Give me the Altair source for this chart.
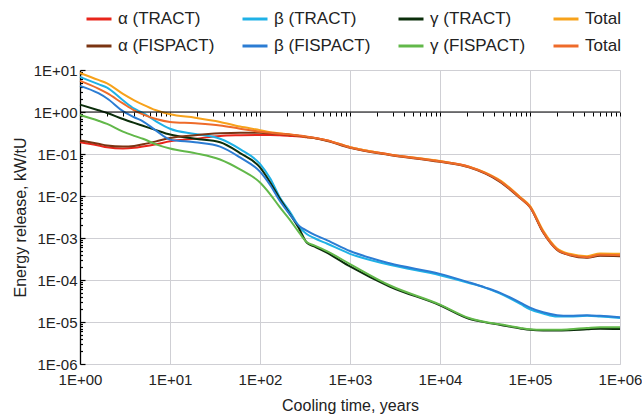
import altair as alt
import pandas as pd

# Cooling time, years
years = [1, 1.6, 2, 3, 4, 5, 7, 10, 19, 36, 60, 100, 130, 165, 215, 275, 330, 400,
         560, 1000, 2750, 1e4, 2.1e4, 3.2e4, 4.6e4, 7.8e4, 1e5, 1.4e5, 2e5, 2.75e5,
         4.3e5, 6e5, 1e6]

# Energy release, kW/tU
alpha_tract = [0.19, 0.16, 0.145, 0.135, 0.14, 0.15, 0.17, 0.2, 0.23, 0.27, 0.28, 0.285,
               0.285, 0.28, 0.27, 0.26, 0.25, 0.24, 0.21, 0.145, 0.098, 0.067, 0.05,
               0.035, 0.023, 0.0092, 0.0056, 0.0014, 5.4e-4, 4.0e-4, 3.5e-4, 3.9e-4, 3.8e-4]
beta_tract = [6.8, 4.6, 3.8, 1.9, 1.2, 0.95, 0.6, 0.4, 0.3, 0.23, 0.13, 0.058, 0.026,
              0.0095, 0.0042, 0.0018, 1.25e-3, 1.0e-3, 7.3e-4, 4.2e-4, 2.3e-4, 1.3e-4,
              8.5e-5, 6.5e-5, 4.8e-5, 2.7e-5, 2.0e-5, 1.6e-5, 1.35e-5, 1.35e-5, 1.4e-5,
              1.35e-5, 1.25e-5]
gamma_tract = [1.5, 1.1, 0.95, 0.68, 0.55, 0.47, 0.37, 0.29, 0.23, 0.19, 0.105, 0.048,
               0.021, 0.0088, 0.0037, 0.0016, 7.8e-4, 6.3e-4, 4.4e-4, 2.1e-4, 7.0e-5,
               2.5e-5, 1.2e-5, 9.8e-6, 8.6e-6, 7.0e-6, 6.5e-6, 6.3e-6, 6.3e-6, 6.4e-6,
               6.7e-6, 6.9e-6, 6.8e-6]
total_tract = [8.5, 5.8, 4.8, 2.7, 1.9, 1.5, 1.1, 0.88, 0.73, 0.58, 0.45, 0.37, 0.33,
               0.31, 0.29, 0.27, 0.255, 0.24, 0.21, 0.145, 0.098, 0.068, 0.05, 0.036,
               0.024, 0.0094, 0.0058, 0.0015, 5.6e-4, 4.2e-4, 3.7e-4, 4.3e-4, 4.2e-4]
alpha_fispact = [0.21, 0.175, 0.16, 0.15, 0.155, 0.17, 0.2, 0.24, 0.28, 0.31, 0.32, 0.32,
                 0.31, 0.3, 0.285, 0.27, 0.255, 0.24, 0.205, 0.14, 0.095, 0.065, 0.048,
                 0.034, 0.022, 0.0088, 0.0054, 0.00135, 5.2e-4, 3.9e-4, 3.4e-4, 3.8e-4,
                 3.7e-4]
beta_fispact = [4.2, 2.8, 2.1, 1.05, 0.75, 0.6, 0.36, 0.22, 0.19, 0.15, 0.083, 0.038,
                0.018, 0.0078, 0.0036, 0.0019, 1.5e-3, 1.2e-3, 8.8e-4, 4.9e-4, 2.5e-4,
                1.4e-4, 8.8e-5, 6.6e-5, 5.0e-5, 2.9e-5, 2.2e-5, 1.7e-5, 1.45e-5, 1.4e-5,
                1.45e-5, 1.4e-5, 1.3e-5]
gamma_fispact = [0.85, 0.62, 0.52, 0.34, 0.27, 0.23, 0.17, 0.135, 0.105, 0.074, 0.043,
                 0.021, 0.011, 0.0055, 0.0027, 0.0013, 8.0e-4, 6.7e-4, 4.8e-4, 2.4e-4,
                 7.5e-5, 2.6e-5, 1.25e-5, 1.0e-5, 8.8e-6, 7.2e-6, 6.7e-6, 6.5e-6, 6.5e-6,
                 6.7e-6, 7.2e-6, 7.5e-6, 7.5e-6]
total_fispact = [5.5, 3.6, 2.8, 1.6, 1.1, 0.88, 0.68, 0.58, 0.54, 0.48, 0.40, 0.34, 0.32,
                 0.305, 0.29, 0.275, 0.26, 0.245, 0.21, 0.142, 0.096, 0.066, 0.049, 0.035,
                 0.023, 0.009, 0.0055, 0.0014, 5.3e-4, 4.0e-4, 3.5e-4, 4.0e-4, 3.9e-4]

series_names = ["α (TRACT)", "β (TRACT)", "γ (TRACT)", "Total (TRACT)",
                "α (FISPACT)", "β (FISPACT)", "γ (FISPACT)", "Total (FISPACT)"]
series_values = [alpha_tract, beta_tract, gamma_tract, total_tract,
                 alpha_fispact, beta_fispact, gamma_fispact, total_fispact]
series_colors = ["#e8251b", "#1fb1e6", "#0b2e0b", "#f7a21b",
                 "#7a3412", "#2b7cd3", "#62b84a", "#ee6b2a"]
draw_order = [5, 1, 6, 2, 4, 0, 7, 3]

rows = []
for i, (name, vals) in enumerate(zip(series_names, series_values)):
    for t, v in zip(years, vals):
        rows.append({"series": name, "t": t, "v": v, "order": draw_order[i]})
df = pd.DataFrame(rows)

FONT = "Liberation Sans"
W, H = 540, 294

minor_x = [m * 10 ** e for e in range(0, 6) for m in range(1, 10)] + [1e6]
minor_y = [m * 10.0 ** e for e in range(-6, 1) for m in range(1, 10)] + [10]
decade_x = [1, 10, 100, 1e3, 1e4, 1e5, 1e6]
decade_y = [1e-6, 1e-5, 1e-4, 1e-3, 1e-2, 1e-1, 1, 10]

LOGV = "(log(datum.value)/LN10)"
IS_DEC = f"abs({LOGV} - round({LOGV})) < 0.001"
LABEL = (f"'1E' + (round({LOGV}) < 0 ? '-' : '+') + "
         f"(abs(round({LOGV})) < 10 ? '0' : '') + abs(round({LOGV}))")

x_scale = alt.Scale(type="log", domain=[1, 1e6], nice=False)
y_scale = alt.Scale(type="log", domain=[1e-6, 10], nice=False)

lines = alt.Chart(df).mark_line(strokeWidth=2, interpolate="monotone").encode(
    x=alt.X("t:Q", scale=x_scale,
            axis=alt.Axis(values=decade_x, labelExpr=LABEL, grid=True, gridColor="#cfcfd4",
                          domain=False, ticks=False, labelFont=FONT, labelFontSize=15,
                          labelColor="#222", labelPadding=8, labelOverlap=False,
                          labelFlush=False,
                          title="Cooling time, years", titleFont=FONT, titleFontSize=16,
                          titleFontWeight="normal", titleColor="#222", titlePadding=10)),
    y=alt.Y("v:Q", scale=y_scale,
            axis=alt.Axis(values=decade_y, labelExpr=LABEL, grid=True, gridColor="#cfcfd4",
                          domain=True, domainColor="#000", domainWidth=1.3,
                          ticks=False, labelFont=FONT, labelFontSize=15, labelColor="#222",
                          labelPadding=3, labelOverlap=False, labelFlush=False,
                          title="Energy release, kW/tU", titleFont=FONT, titleFontSize=16,
                          titleFontWeight="normal", titleColor="#222", titlePadding=5)),
    color=alt.Color("series:N",
                    scale=alt.Scale(domain=series_names, range=series_colors),
                    legend=alt.Legend(orient="none", legendX=5, legendY=-65, columns=4,
                                      direction="horizontal",
                                      title=None, symbolType="stroke", symbolSize=625,
                                      symbolStrokeWidth=3, labelFont=FONT, labelFontSize=17,
                                      labelColor="#222", labelOffset=5, columnPadding=21,
                                      rowPadding=5, padding=0,
                                      labelExpr="indexof(datum.label, 'Total') == 0 ? 'Total' : datum.label")),
    detail="series:N",
    order="order:Q",
)

cross = alt.Chart(pd.DataFrame({"k": [0]})).mark_rule(color="#000", strokeWidth=1.2).encode(
    x=alt.datum(1, scale=x_scale,
                axis=alt.Axis(orient="bottom", offset=-(H * 6 / 7), values=minor_x,
                              labels=False, grid=False, domain=False, ticks=True,
                              tickColor="#000", tickSize=4, title=None)),
    x2=alt.datum(1e6),
    y=alt.datum(1, scale=y_scale,
                axis=alt.Axis(orient="right", offset=-W, values=minor_y,
                              labels=False, grid=False, domain=False, ticks=True,
                              tickColor="#000", tickWidth=1.2,
                              tickSize={"condition": {"test": IS_DEC, "value": 5}, "value": 2.5},
                              title=None)),
)

chart = alt.layer(lines, cross).resolve_axis(x="independent", y="independent").properties(
    width=W, height=H,
    autosize=alt.AutoSizeParams(type="none"),
    padding={"left": 80, "top": 70, "right": 22, "bottom": 50},
).configure_view(stroke=None).configure(background="white")

chart.save("out.html", embed_options={"renderer": "svg", "actions": False})
